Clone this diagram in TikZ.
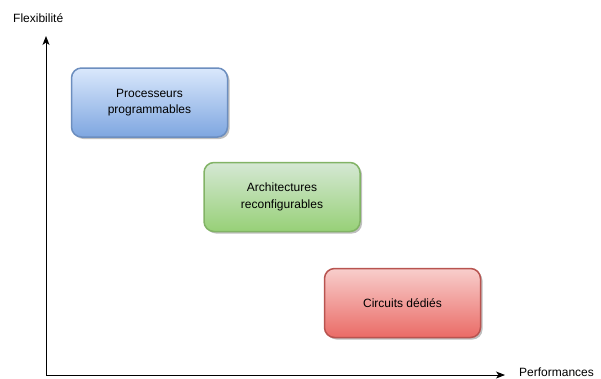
\documentclass[tikz,border=0pt]{standalone}
\usepackage{fontspec}
\setmainfont{Liberation Sans}
\usetikzlibrary{arrows.meta,shadows}
\definecolor{blueTop}{HTML}{DAE8FC}
\definecolor{blueBot}{HTML}{7EA6E0}
\definecolor{blueLine}{HTML}{6C8EBF}
\definecolor{greenTop}{HTML}{D5E8D4}
\definecolor{greenBot}{HTML}{97D077}
\definecolor{greenLine}{HTML}{82B366}
\definecolor{redTop}{HTML}{F8CECC}
\definecolor{redBot}{HTML}{EA6B66}
\definecolor{redLine}{HTML}{B85450}
\tikzset{
  card/.style={rounded corners=10pt, line width=1.5pt, minimum width=156pt,
    minimum height=69pt, align=center, font=\fontsize{12pt}{16.5pt}\selectfont,
    drop shadow={shadow xshift=2pt, shadow yshift=-2pt, opacity=0.25, fill=black}},
  axis/.style={line width=1pt, -{Stealth[length=9pt,width=7pt,inset=2.5pt]}},
  lbl/.style={font=\fontsize{12pt}{14pt}\selectfont, inner sep=0pt}
}
\begin{document}
\begin{tikzpicture}[x=1pt,y=-1pt]
  \useasboundingbox (0,0) rectangle (601,378);
  % axes
  \coordinate (o) at (46,375);
  \coordinate (ytop) at (46,36);
  \coordinate (xend) at (505,375);
  \draw[axis] (o) -- (ytop);
  \draw[axis] (o) -- (xend);
  \node[lbl, anchor=west] (ylab) at (13,18) {Flexibilité};
  \node[lbl, anchor=west] (xlab) at (519,372) {Performances};
  % categories
  \node[card, draw=blueLine, top color=blueTop, bottom color=blueBot] (proc) at (149.5,102.5) {Processeurs\\programmables};
  \node[card, draw=greenLine, top color=greenTop, bottom color=greenBot] (arch) at (282,197) {Architectures\\reconfigurables};
  \node[card, draw=redLine, top color=redTop, bottom color=redBot] (circ) at (402.5,303) {Circuits dédiés};
\end{tikzpicture}
\end{document}
